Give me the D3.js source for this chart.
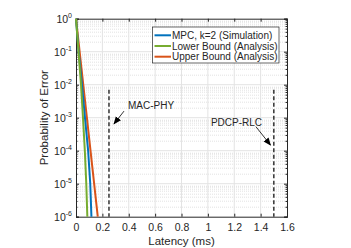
<!DOCTYPE html>
<meta charset="utf-8">
<style>
body { margin: 0; background: #fff; }
text { font-family: "Liberation Sans", Arial, sans-serif; fill: #262626; }
</style>
<body>
<svg width="351" height="248"></svg>
<script src="https://cdn.jsdelivr.net/npm/d3@7"></script>
<script>

// series (latency in ms, probability of error)
var seriesNames = ["MPC, k=2 (Simulation)", "Lower Bound (Analysis)", "Upper Bound (Analysis)"];
var seriesColors = ["#0072BD", "#77AC30", "#D95319"];
var probs = [1, 1e-1, 1e-2, 1e-3, 1e-4, 1e-5, 1e-6];
var mpcLatency = [0, 0.02, 0.045, 0.068, 0.092, 0.108, 0.117];
var lowerLatency = [0, 0.019, 0.038, 0.053, 0.067, 0.078, 0.086];
var upperLatency = [0, 0.0275, 0.055, 0.0825, 0.11, 0.1375, 0.165];

var xTicks = [0, 0.2, 0.4, 0.6, 0.8, 1, 1.2, 1.4, 1.6];
var yExps = [0, -1, -2, -3, -4, -5, -6];

// deadlines
var markers = [
  {label: "MAC-PHY", x: 0.25, top: 0.007, tx: 0.394, ty: -2.62, ax0: 0.364, ay0: -2.80, ax1: 0.288, ay1: -3.19},
  {label: "PDCP-RLC", x: 1.5, top: 0.007, tx: 1.023, ty: -3.14, ax0: 1.364, ay0: -3.27, ax1: 1.475, ay1: -3.83}
];

var svg = d3.select("svg"),
    margin = {top: 18.7, right: 64, bottom: 31.3, left: 76},
    width = 351 - margin.left - margin.right,
    height = 248 - margin.top - margin.bottom,
    g = svg.append("g").attr("transform", "translate(" + margin.left + "," + margin.top + ")");

var x = d3.scaleLinear().domain([0, 1.6]).range([0, width]),
    y = d3.scaleLog().domain([1e-6, 1]).range([height, 0]);

var defs = svg.append("defs");
defs.append("marker")
    .attr("id", "arr")
    .attr("viewBox", "0 0 10 10")
    .attr("refX", 9).attr("refY", 5)
    .attr("markerWidth", 8).attr("markerHeight", 8)
    .attr("markerUnits", "userSpaceOnUse")
    .attr("orient", "auto")
  .append("path")
    .attr("d", "M0,1 L10,5 L0,9 z")
    .attr("fill", "#000");

// minor grid (dotted)
var minor = [];
yExps.slice(1).forEach(function(e) {
  for (var k = 2; k <= 9; k++) minor.push(k * Math.pow(10, e));
});
g.selectAll(".minor")
  .data(minor)
  .enter().append("line")
    .attr("x1", 0).attr("x2", width)
    .attr("y1", function(d) { return Math.round(y(d)) + 0.5; })
    .attr("y2", function(d) { return Math.round(y(d)) + 0.5; })
    .attr("stroke", "#d6d6d6")
    .attr("stroke-width", 0.7)
    .attr("stroke-dasharray", "1,1");

// major grid
g.selectAll(".gx")
  .data(xTicks.slice(1, -1))
  .enter().append("line")
    .attr("x1", function(d) { return x(d); }).attr("x2", function(d) { return x(d); })
    .attr("y1", 0).attr("y2", height)
    .attr("stroke", "#e3e3e3");
g.selectAll(".gy")
  .data(yExps.slice(1, -1))
  .enter().append("line")
    .attr("x1", 0).attr("x2", width)
    .attr("y1", function(d) { return y(Math.pow(10, d)); })
    .attr("y2", function(d) { return y(Math.pow(10, d)); })
    .attr("stroke", "#e3e3e3");

// axes
var xAxis = g.append("g")
    .attr("transform", "translate(0," + height + ")")
    .call(d3.axisBottom(x).tickValues(xTicks).tickSize(-3).tickPadding(7)
      .tickFormat(function(d) { return d3.format("")(d); }));
xAxis.selectAll("text").style("font-size", "10.5px").attr("fill", "#262626");
g.append("g").call(d3.axisTop(x).tickValues(xTicks).tickSize(-3).tickFormat(""));

var yAxis = g.append("g")
    .call(d3.axisLeft(y).tickValues(yExps.map(function(e) { return Math.pow(10, e); }))
      .tickSize(-3).tickPadding(4).tickFormat(""));
g.append("g").attr("transform", "translate(" + width + ",0)")
    .call(d3.axisRight(y).tickValues(yExps.map(function(e) { return Math.pow(10, e); }))
      .tickSize(-3).tickFormat(""));
g.append("g").call(d3.axisLeft(y).tickValues(minor).tickSize(-1.5).tickFormat(""));
g.append("g").attr("transform", "translate(" + width + ",0)")
    .call(d3.axisRight(y).tickValues(minor).tickSize(-1.5).tickFormat(""));
g.selectAll(".domain").attr("stroke", "#262626");
g.selectAll(".tick line").attr("stroke", "#262626");

var yl = g.selectAll(".ylab")
  .data(yExps)
  .enter().append("text")
    .attr("x", -4)
    .attr("y", function(d) { return y(Math.pow(10, d)) + 4; })
    .attr("text-anchor", "end")
    .style("font-size", "10.5px");
yl.append("tspan").text("10");
yl.append("tspan").attr("dy", -5).style("font-size", "7px").text(function(d) { return d; });

// curves
var lineGen = d3.line()
    .x(function(d) { return x(d[0]); })
    .y(function(d) { return y(d[1]); });
var series = [mpcLatency, lowerLatency, upperLatency];
var drawOrder = [2, 0, 1];
drawOrder.forEach(function(i) {
  g.append("path")
    .datum(series[i].map(function(v, j) { return [v, probs[j]]; }))
    .attr("d", lineGen)
    .attr("fill", "none")
    .attr("stroke", seriesColors[i])
    .attr("stroke-width", 2);
});

// deadline lines and notes
markers.forEach(function(m) {
  g.append("line")
    .attr("x1", x(m.x)).attr("x2", x(m.x))
    .attr("y1", y(m.top)).attr("y2", height)
    .attr("stroke", "#333")
    .attr("stroke-width", 1.5)
    .attr("stroke-dasharray", "4,2.5");
  g.append("text")
    .attr("x", x(m.tx)).attr("y", y(Math.pow(10, m.ty)) + 3.5)
    .style("font-size", "10px")
    .text(m.label);
  g.append("line")
    .attr("x1", x(m.ax0)).attr("y1", y(Math.pow(10, m.ay0)))
    .attr("x2", x(m.ax1)).attr("y2", y(Math.pow(10, m.ay1)))
    .attr("stroke", "#000").attr("stroke-width", 0.8)
    .attr("marker-end", "url(#arr)");
});

// legend
var lg = g.append("g").attr("transform", "translate(" + (152.5 - margin.left) + "," + (27 - margin.top) + ")");
lg.append("rect")
    .attr("width", 126.5).attr("height", 36)
    .attr("fill", "#fff").attr("stroke", "#262626").attr("stroke-width", 0.7);
seriesNames.forEach(function(n, i) {
  var yy = 8.3 + i * 10.7;
  lg.append("line")
    .attr("x1", 2).attr("x2", 18.5).attr("y1", yy).attr("y2", yy)
    .attr("stroke", seriesColors[i]).attr("stroke-width", 2);
  lg.append("text")
    .attr("x", 19.5).attr("y", yy + 3.5)
    .style("font-size", "10px")
    .text(n);
});

// axis titles
svg.append("text")
    .attr("x", margin.left + width / 2).attr("y", 245)
    .attr("text-anchor", "middle")
    .style("font-size", "11.5px")
    .text("Latency (ms)");
svg.append("text")
    .attr("transform", "translate(48," + (margin.top + height / 2) + ") rotate(-90)")
    .attr("text-anchor", "middle")
    .style("font-size", "11.5px")
    .text("Probability of Error");

</script>
</body>
